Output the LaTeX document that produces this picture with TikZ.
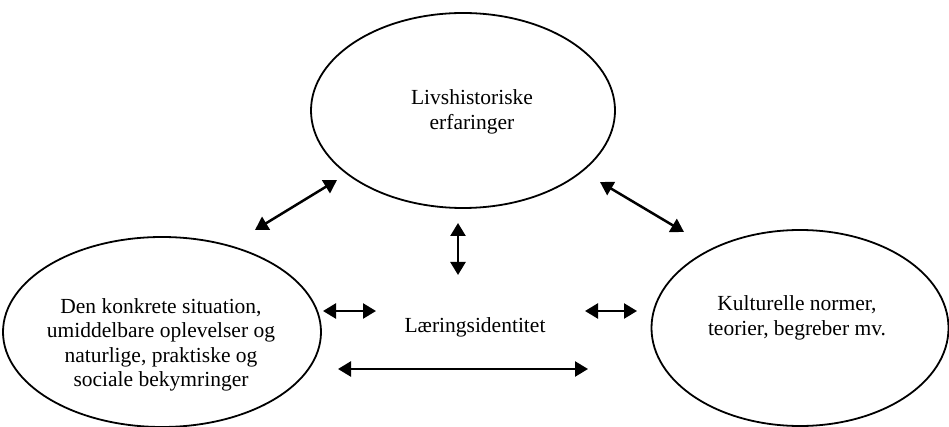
\documentclass[tikz,border=0pt]{standalone}
\usepackage{fontspec}
\setmainfont{Liberation Serif}
\usetikzlibrary{shapes.geometric,arrows.meta}
\begin{document}
\begin{tikzpicture}[x=1pt,y=-1pt,
  bubble/.style={ellipse,draw,line width=1.8pt,inner sep=0pt},
  txt/.style={align=center,font=\fontsize{21.5}{24.5}\selectfont,inner sep=0pt},
  dbl/.style={line width=2.5pt,{Triangle[length=13pt,width=15pt]}-{Triangle[length=13pt,width=15pt]}}]
\useasboundingbox (0,0) rectangle (949,427);
% ellipses
\node[bubble,minimum width=304pt,minimum height=195pt] (top) at (463,110.5) {};
\node[bubble,minimum width=318pt,minimum height=190pt] (left) at (162,332) {};
\node[bubble,minimum width=297pt,minimum height=196pt] (right) at (800,328) {};
% texts
\node[txt] (toptext) at (472,112) {Livshistoriske\\erfaringer};
\node[txt] (lefttext) at (161,345) {Den konkrete situation,\\umiddelbare oplevelser og\\naturlige, praktiske og\\sociale bekymringer};
\node[txt] (righttext) at (797,318) {Kulturelle normer,\\teorier, begreber mv.};
\node[txt] (center) at (475,327) {Læringsidentitet};
% arrow ends
\coordinate (la1) at (255,230); \coordinate (la2) at (337,180);
\coordinate (ra1) at (600,182); \coordinate (ra2) at (684,232);
\coordinate (v1) at (458,223); \coordinate (v2) at (458,275);
\coordinate (h1a) at (323,311); \coordinate (h1b) at (376,311);
\coordinate (h2a) at (585,311); \coordinate (h2b) at (637,311);
\coordinate (h3a) at (338,369); \coordinate (h3b) at (588,369);
\draw[dbl] (la1) -- (la2);
\draw[dbl] (ra1) -- (ra2);
\draw[dbl] (v1) -- (v2);
\draw[dbl] (h1a) -- (h1b);
\draw[dbl] (h2a) -- (h2b);
\draw[dbl] (h3a) -- (h3b);
\end{tikzpicture}
\end{document}
